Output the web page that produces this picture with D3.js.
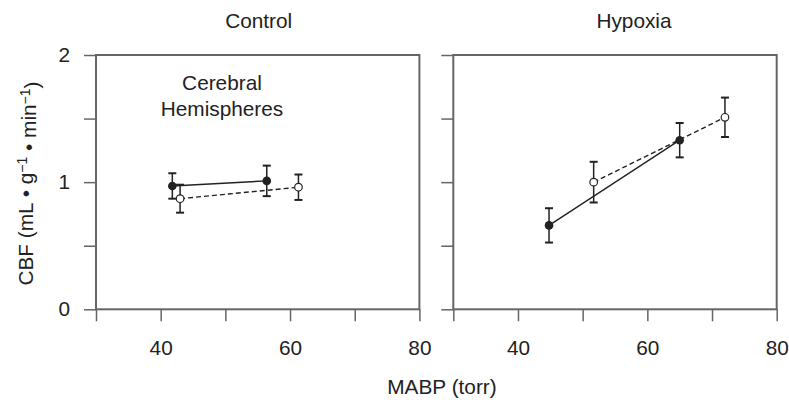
<!DOCTYPE html>
<html>
<head>
<meta charset="utf-8">
<script src="https://cdn.jsdelivr.net/npm/d3@7"></script>
<style>
  body { margin: 0; background: #fff; }
  svg { font-family: "Liberation Sans", Arial, sans-serif; }
</style>
</head>
<body>
<div id="chart"></div>
<script>
// Panels
const panelTitles = ["Control", "Hypoxia"];

// Axis ticks
const xTicks = [30, 40, 50, 60, 70, 80];
const xTickLabels = [40, 60, 80];
const yTicks = [0, 0.5, 1, 1.5, 2];
const yTickLabels = [0, 1, 2];

// Control panel (filled = solid line, open = dashed line)
const controlFilledMabp = [41.8, 56.4];
const controlFilledCbf = [0.97, 1.01];
const controlFilledErr = [0.10, 0.12];
const controlOpenMabp = [43.0, 61.3];
const controlOpenCbf = [0.87, 0.96];
const controlOpenErr = [0.11, 0.10];

// Hypoxia panel
const hypoxiaFilledMabp = [44.8, 65.0];
const hypoxiaFilledCbf = [0.66, 1.33];
const hypoxiaFilledErr = [0.135, 0.135];
const hypoxiaOpenMabp = [51.7, 72.0];
const hypoxiaOpenCbf = [1.0, 1.51];
const hypoxiaOpenErr = [0.16, 0.155];

function toPoints(xs, ys, es) {
  return xs.map((x, i) => ({ x: x, y: ys[i], e: es[i] }));
}

const panelData = [
  {
    filled: toPoints(controlFilledMabp, controlFilledCbf, controlFilledErr),
    open: toPoints(controlOpenMabp, controlOpenCbf, controlOpenErr)
  },
  {
    filled: toPoints(hypoxiaFilledMabp, hypoxiaFilledCbf, hypoxiaFilledErr),
    open: toPoints(hypoxiaOpenMabp, hypoxiaOpenCbf, hypoxiaOpenErr)
  }
];

const WIDTH = 789;
const HEIGHT = 400;
const TOP = 55;
const BOTTOM = 309.3;
const panelLeft = [96, 453.3];
const PANEL_W = 323.4;
const FONT = "20.8px";
const INK = "#222";
const FRAME = "#666";

const svg = d3
  .select("#chart")
  .append("svg")
  .attr("width", WIDTH)
  .attr("height", HEIGHT);

const yScale = d3.scaleLinear().domain([0, 2]).range([BOTTOM, TOP]);

panelData.forEach((data, p) => {
  const left = panelLeft[p];
  const xScale = d3.scaleLinear().domain([30, 80]).range([left, left + PANEL_W]);

  // x axis
  const gx = svg
    .append("g")
    .attr("transform", `translate(0, ${BOTTOM})`)
    .call(
      d3.axisBottom(xScale)
        .tickValues(xTicks)
        .tickSize(12)
        .tickPadding(19)
        .tickFormat((d) => (xTickLabels.includes(d) ? d : ""))
    );

  // y axis
  const gy = svg
    .append("g")
    .attr("transform", `translate(${left}, 0)`)
    .call(
      d3.axisLeft(yScale)
        .tickValues(yTicks)
        .tickSize(12)
        .tickPadding(14)
        .tickFormat((d) => (p === 0 && yTickLabels.includes(d) ? d : ""))
    );

  [gx, gy].forEach((g) => {
    g.select(".domain").remove();
    g.selectAll(".tick line").attr("stroke", FRAME).attr("stroke-width", 1.5);
    g.selectAll(".tick text")
      .attr("fill", INK)
      .style("font-size", FONT)
      .style("font-family", '"Liberation Sans", Arial, sans-serif');
  });

  // frame
  svg
    .append("rect")
    .attr("x", left)
    .attr("y", TOP)
    .attr("width", PANEL_W)
    .attr("height", BOTTOM - TOP)
    .attr("fill", "none")
    .attr("stroke", FRAME)
    .attr("stroke-width", 2);

  // panel title
  svg
    .append("text")
    .attr("x", p === 0 ? left + PANEL_W / 2 + 1 : 634)
    .attr("y", 28.3)
    .attr("text-anchor", "middle")
    .attr("fill", INK)
    .style("font-size", FONT)
    .text(panelTitles[p]);

  const line = d3.line().x((d) => xScale(d.x)).y((d) => yScale(d.y));

  // connecting lines
  svg
    .append("path")
    .datum(data.filled)
    .attr("d", line)
    .attr("fill", "none")
    .attr("stroke", INK)
    .attr("stroke-width", 1.4);

  svg
    .append("path")
    .datum(data.open)
    .attr("d", line)
    .attr("fill", "none")
    .attr("stroke", INK)
    .attr("stroke-width", 1.4)
    .attr("stroke-dasharray", "5,3");

  // error bars
  const all = data.filled.concat(data.open);
  const eb = svg.append("g").attr("stroke", INK);
  eb.selectAll("line.stem")
    .data(all)
    .enter()
    .append("line")
    .attr("class", "stem")
    .attr("x1", (d) => xScale(d.x))
    .attr("x2", (d) => xScale(d.x))
    .attr("y1", (d) => yScale(d.y - d.e))
    .attr("y2", (d) => yScale(d.y + d.e))
    .attr("stroke-width", 1.5);
  [1, -1].forEach((s) => {
    eb.selectAll(`line.cap${s}`)
      .data(all)
      .enter()
      .append("line")
      .attr("x1", (d) => xScale(d.x) - 4)
      .attr("x2", (d) => xScale(d.x) + 4)
      .attr("y1", (d) => yScale(d.y + s * d.e))
      .attr("y2", (d) => yScale(d.y + s * d.e))
      .attr("stroke-width", 2);
  });

  // markers
  svg.selectAll(null)
    .data(data.open)
    .enter()
    .append("circle")
    .attr("cx", (d) => xScale(d.x))
    .attr("cy", (d) => yScale(d.y))
    .attr("r", 3.8)
    .attr("fill", "#fff")
    .attr("stroke", INK)
    .attr("stroke-width", 1.2);

  svg.selectAll(null)
    .data(data.filled)
    .enter()
    .append("circle")
    .attr("cx", (d) => xScale(d.x))
    .attr("cy", (d) => yScale(d.y))
    .attr("r", 4.3)
    .attr("fill", INK);
});

// annotation
const note = svg
  .append("text")
  .attr("text-anchor", "middle")
  .attr("fill", INK)
  .style("font-size", FONT);
note.append("tspan").attr("x", 222).attr("y", 89.5).text("Cerebral");
note.append("tspan").attr("x", 222).attr("y", 116).text("Hemispheres");

// x axis title
svg
  .append("text")
  .attr("x", 442)
  .attr("y", 393.5)
  .attr("text-anchor", "middle")
  .attr("fill", INK)
  .style("font-size", FONT)
  .text("MABP (torr)");

// y axis title with superscripts
const yTitle = svg
  .append("text")
  .attr("transform", "translate(33, 183.5) rotate(-90)")
  .attr("text-anchor", "middle")
  .attr("fill", INK)
  .style("font-size", FONT);
yTitle.append("tspan").text("CBF (mL \u2022 g");
yTitle.append("tspan").attr("dy", "-0.45em").style("font-size", "14px").text("\u22121");
yTitle.append("tspan").attr("dy", "0.45em").text(" \u2022 min");
yTitle.append("tspan").attr("dy", "-0.45em").style("font-size", "14px").text("\u22121");
yTitle.append("tspan").attr("dy", "0.45em").text(")");
</script>
</body>
</html>
